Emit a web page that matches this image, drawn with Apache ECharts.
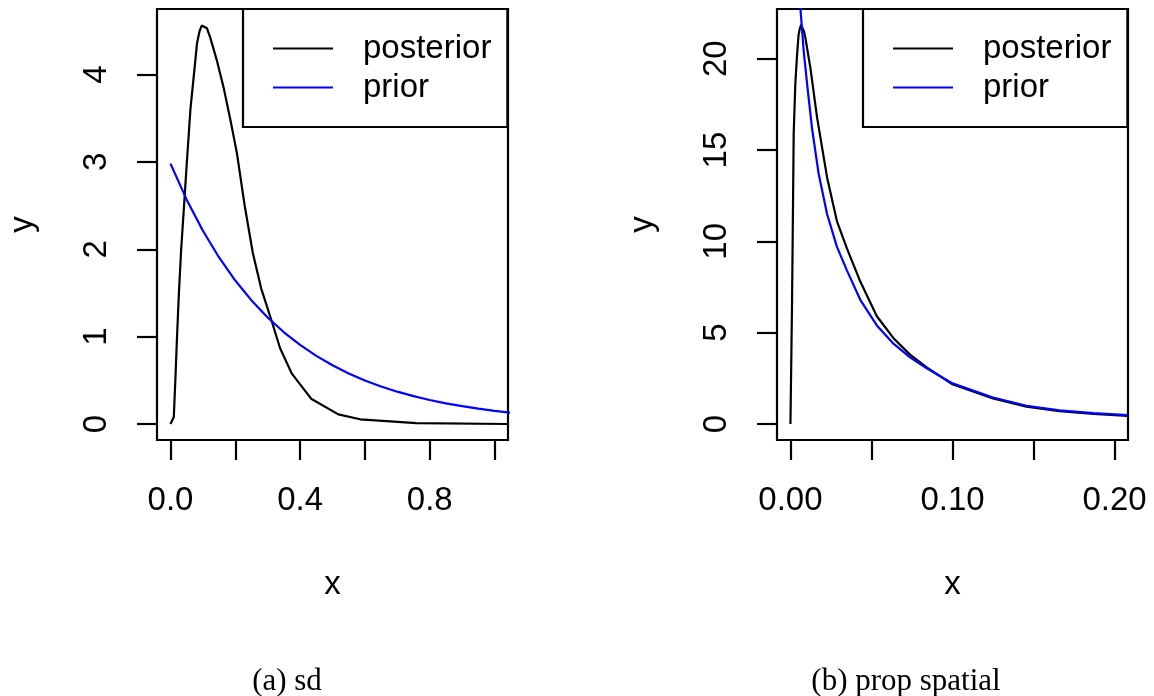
<!DOCTYPE html>
<html>
<head>
<meta charset="utf-8">
<script src="https://cdn.jsdelivr.net/npm/echarts@6/dist/echarts.min.js"></script>
<style>
  html, body { margin: 0; padding: 0; background: #fff; }
  #chart { width: 1154px; height: 696px; }
</style>
</head>
<body>
<div id="chart"></div>
<script>
// Panel (a): sd
const sdPostX = [0, 0.005, 0.0103, 0.015, 0.02, 0.026, 0.033, 0.044, 0.049, 0.0615, 0.0718, 0.082, 0.09, 0.0965, 0.1025, 0.1125, 0.123, 0.144, 0.164, 0.185, 0.205, 0.229, 0.254, 0.28, 0.313, 0.338, 0.374, 0.434, 0.518, 0.585, 0.759, 1.04];
const sdPostY = [0, 0.01, 0.08, 0.5, 0.98, 1.5, 2.0, 2.62, 2.91, 3.6, 3.98, 4.36, 4.5, 4.56, 4.57, 4.53, 4.42, 4.15, 3.85, 3.48, 3.1, 2.5, 1.96, 1.55, 1.17, 0.87, 0.58, 0.29, 0.11, 0.054, 0.01, 0.0];
const sdPriorX = [0, 0.05, 0.1, 0.15, 0.2, 0.25, 0.3, 0.35, 0.4, 0.45, 0.5, 0.55, 0.6, 0.65, 0.7, 0.75, 0.8, 0.85, 0.9, 0.95, 1.0, 1.05];
const sdPriorY = [2.98, 2.568, 2.212, 1.906, 1.642, 1.415, 1.219, 1.05, 0.905, 0.78, 0.672, 0.579, 0.499, 0.43, 0.37, 0.319, 0.275, 0.237, 0.204, 0.176, 0.151, 0.13];

// Panel (b): prop spatial
const spPostX = [0, 0.001, 0.0016, 0.002, 0.003, 0.004, 0.005, 0.0058, 0.0066, 0.0074, 0.0083, 0.0092, 0.0123, 0.0164, 0.0226, 0.0287, 0.0349, 0.0431, 0.0533, 0.0636, 0.0738, 0.0841, 0.0995, 0.125, 0.1457, 0.166, 0.187, 0.208];
const spPostY = [0, 6.8, 12.2, 15.9, 18.6, 20.1, 21.3, 21.65, 21.85, 21.75, 21.5, 21.15, 19.5, 16.8, 13.5, 11.1, 9.6, 7.8, 5.9, 4.7, 3.8, 3.1, 2.2, 1.4, 0.95, 0.7, 0.55, 0.44];
const spPriorX = [0.002, 0.004, 0.0062, 0.0082, 0.0103, 0.0133, 0.0174, 0.0226, 0.0287, 0.0349, 0.0431, 0.0533, 0.0636, 0.0738, 0.0841, 0.0995, 0.125, 0.1457, 0.166, 0.187, 0.208];
const spPriorY = [45, 30, 22.7, 20.4, 18.6, 16.2, 13.7, 11.5, 9.7, 8.4, 6.8, 5.4, 4.4, 3.65, 3.05, 2.25, 1.45, 1.0, 0.75, 0.6, 0.49];

// Axis ticks and labels
const sdXTicks = [0, 0.2, 0.4, 0.6, 0.8, 1.0];
const sdXLabels = [0, 0.4, 0.8];
const sdYTicks = [0, 1, 2, 3, 4];
const spXTicks = [0, 0.05, 0.1, 0.15, 0.2];
const spXLabels = [0, 0.1, 0.2];
const spYTicks = [0, 5, 10, 15, 20];

const seriesNames = ['posterior', 'prior'];
const captions = ['(a) sd', '(b) prop spatial'];

const pair = (xs, ys) => xs.map((x, i) => [x, ys[i]]);

const FONT = 'Liberation Sans, Arial, sans-serif';
const FS = 33;
const LW = 2.2;

function xAxisFor(gridIndex, min, max, ticks, labels, digits) {
  return {
    type: 'value', gridIndex, min, max,
    axisLine: { show: false, onZero: false },
    axisTick: { show: true, inside: false, length: 20, customValues: ticks,
                lineStyle: { color: '#000', width: LW } },
    axisLabel: { show: true, customValues: labels, margin: 44,
                 formatter: v => Number(v).toFixed(digits),
                 color: '#000', fontFamily: FONT, fontSize: FS },
    splitLine: { show: false },
    name: 'x', nameLocation: 'middle', nameGap: 128,
    nameTextStyle: { color: '#000', fontFamily: FONT, fontSize: FS }
  };
}

function yAxisFor(gridIndex, min, max, ticks) {
  return {
    type: 'value', gridIndex, min, max,
    axisLine: { show: false, onZero: false },
    axisTick: { show: true, inside: false, length: 20, customValues: ticks,
                lineStyle: { color: '#000', width: LW } },
    axisLabel: { show: true, customValues: ticks, margin: 44, rotate: 90,
                 formatter: v => String(v),
                 color: '#000', fontFamily: FONT, fontSize: FS },
    splitLine: { show: false },
    name: 'y', nameLocation: 'middle', nameGap: 118, nameRotate: 90,
    nameTextStyle: { color: '#000', fontFamily: FONT, fontSize: FS }
  };
}

function legendFor(left) {
  return {
    show: true, orient: 'vertical', left, top: 9,
    data: seriesNames, selectedMode: false,
    icon: 'rect', itemWidth: 60, itemHeight: 2, itemGap: 0,
    padding: [20, 16, 20, 30],
    borderColor: '#000', borderWidth: LW, borderRadius: 0,
    backgroundColor: '#fff',
    textStyle: { color: '#000', fontFamily: FONT, fontSize: FS, lineHeight: 39,
                 padding: [0, 0, 0, 25] }
  };
}

function lineSeries(name, color, xi, yi, data) {
  return {
    type: 'line', name, xAxisIndex: xi, yAxisIndex: yi, data,
    showSymbol: false, symbol: 'none', smooth: false, clip: true,
    lineStyle: { color, width: LW }, itemStyle: { color },
    animation: false
  };
}

const chart = echarts.init(document.getElementById('chart'), null, { renderer: 'canvas' });
chart.setOption({
  backgroundColor: '#fff',
  animation: false,
  grid: [
    { left: 157, right: 646, top: 9, bottom: 256, show: true, borderColor: '#000', borderWidth: LW, backgroundColor: 'transparent' },
    { left: 777, right: 26, top: 9, bottom: 256, show: true, borderColor: '#000', borderWidth: LW, backgroundColor: 'transparent' }
  ],
  xAxis: [
    xAxisFor(0, -0.0416, 1.0416, sdXTicks, sdXLabels, 1),
    xAxisFor(1, -0.0083, 0.2083, spXTicks, spXLabels, 2)
  ],
  yAxis: [
    yAxisFor(0, -0.183, 4.75, sdYTicks),
    yAxisFor(1, -0.874, 22.72, spYTicks)
  ],
  legend: [legendFor(243), legendFor(863)],
  series: [
    lineSeries('posterior', '#000000', 0, 0, pair(sdPostX, sdPostY)),
    lineSeries('prior', '#0000ff', 0, 0, pair(sdPriorX, sdPriorY)),
    lineSeries('posterior', '#000000', 1, 1, pair(spPostX, spPostY)),
    lineSeries('prior', '#0000ff', 1, 1, pair(spPriorX, spPriorY))
  ],
  graphic: [
    { type: 'text', x: 287, y: 682, style: { text: captions[0], textAlign: 'center', textVerticalAlign: 'middle',
      fill: '#000', font: '31px "Liberation Serif", serif' } },
    { type: 'text', x: 906, y: 682, style: { text: captions[1], textAlign: 'center', textVerticalAlign: 'middle',
      fill: '#000', font: '31px "Liberation Serif", serif' } }
  ]
});
</script>
</body>
</html>
